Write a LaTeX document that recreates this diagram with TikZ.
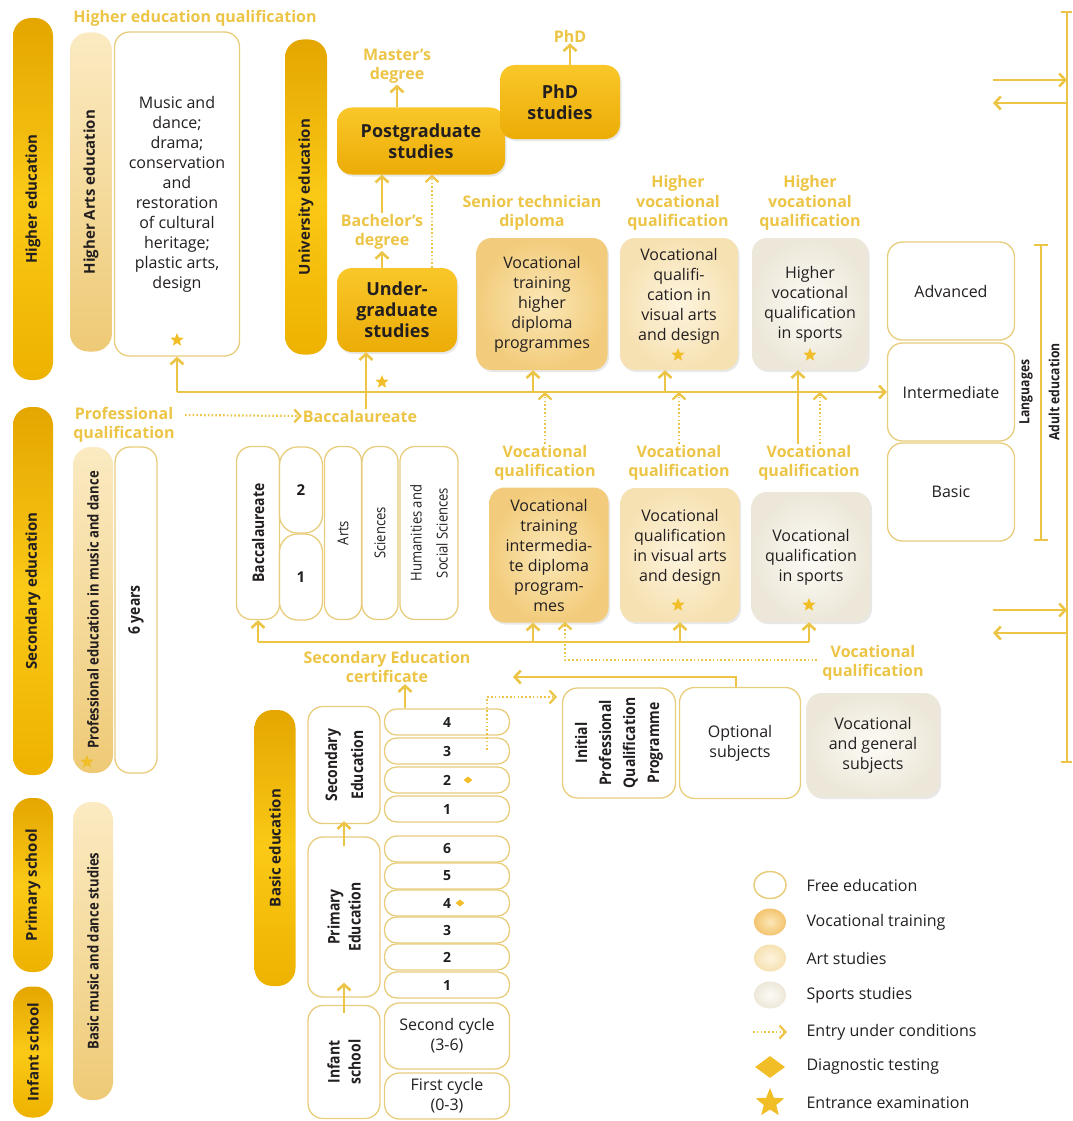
\documentclass[tikz,border=0pt]{standalone}
\usepackage{fontspec}
\setmainfont{Open Sans}
\newfontfamily\condfont[FakeStretch=0.87]{Open Sans}
\usetikzlibrary{arrows.meta,shapes.geometric,shadows}

\definecolor{gold}{RGB}{236,196,70}
\definecolor{goldedge}{RGB}{232,205,125}
\definecolor{starcol}{RGB}{241,190,40}
\definecolor{bardark}{RGB}{228,166,0}
\definecolor{barmid}{RGB}{250,201,22}
\definecolor{barright}{RGB}{238,178,0}
\definecolor{lightL}{RGB}{251,234,194}
\definecolor{lightR}{RGB}{238,202,118}
\definecolor{unitop}{RGB}{249,199,42}
\definecolor{unibot}{RGB}{236,172,6}
\definecolor{vocin}{RGB}{251,231,182}
\definecolor{vocout}{RGB}{242,204,124}
\definecolor{artin}{RGB}{253,244,222}
\definecolor{artout}{RGB}{246,225,178}
\definecolor{sportin}{RGB}{253,251,246}
\definecolor{sportout}{RGB}{236,231,216}
\definecolor{ink}{RGB}{35,31,32}

\begin{document}
\begin{tikzpicture}[x=1pt, y=-1pt, text=ink,
  font=\fontsize{16}{20}\selectfont,
  line/.style={gold, line width=2.6pt},
  arr/.style={line, -{Straight Barb[length=6pt,width=13pt]}},
  dotarr/.style={arr, line width=2.2pt, dash pattern=on 1.6pt off 2.2pt},
  darkbar/.style={rotate=90, rounded corners=18pt, inner sep=0pt,
    top color=bardark, bottom color=barright, middle color=barmid,
    font=\fontsize{15}{18}\selectfont\bfseries},
  lightbar/.style={rotate=90, rounded corners=18pt, inner sep=0pt,
    top color=lightL, bottom color=lightR,
    font=\condfont\fontsize{15}{18}\selectfont\bfseries},
  freebox/.style={draw=goldedge, line width=1.3pt, fill=white,
    rounded corners=15pt, align=center, inner sep=2pt},
  vfree/.style={freebox, rotate=90, font=\condfont\fontsize{15}{19}\selectfont},
  vfreeb/.style={vfree, font=\condfont\fontsize{16}{21}\selectfont\bfseries},
  softshadow/.style={drop shadow={opacity=0.18, shadow xshift=1.5pt, shadow yshift=-2pt}},
  unibox/.style={rounded corners=15pt, top color=unitop, bottom color=unibot,
    align=center, softshadow, font=\fontsize{18}{21}\selectfont\bfseries},
  vocbox/.style={rounded corners=15pt, inner color=vocin, outer color=vocout,
    align=center, softshadow},
  artbox/.style={rounded corners=15pt, inner color=artin, outer color=artout,
    align=center, softshadow},
  sportbox/.style={rounded corners=15pt, inner color=sportin, outer color=sportout,
    align=center, softshadow},
  qual/.style={text=gold, align=center, inner sep=1pt,
    font=\fontsize{16}{19.5}\selectfont\bfseries},
  grade/.style={freebox, rounded corners=12pt, minimum width=125pt,
    minimum height=26pt, font=\fontsize{14}{16}\selectfont\bfseries},
  sidelab/.style={rotate=90, font=\condfont\fontsize{14}{17}\selectfont\bfseries},
  examstar/.style={star, star points=5, star point ratio=2.3, fill=starcol,
    inner sep=0pt, minimum size=14pt},
  diag/.style={diamond, fill=starcol, inner sep=0pt, minimum width=9pt, minimum height=7pt},
  legblob/.style={ellipse, inner sep=0pt, minimum width=32pt, minimum height=27pt}]

  \useasboundingbox (0,0) rectangle (1072,1121);

  % stage bars on the left
  \node[darkbar, minimum width=362pt, minimum height=40pt] (hiedu) at (33,199) {Higher education};
  \node[darkbar, minimum width=368pt, minimum height=40pt] (secedu) at (33,591) {Secondary education};
  \node[darkbar, minimum width=174pt, minimum height=40pt] (primsch) at (33,885) {Primary school};
  \node[darkbar, minimum width=131pt, minimum height=40pt] (infsch) at (33,1052) {Infant school};

  % arts strand
  \node[lightbar, minimum width=319pt, minimum height=42pt,
    font=\fontsize{15}{18}\selectfont\bfseries] (hiarts) at (91,192) {Higher Arts education};
  \node[freebox, minimum width=125pt, minimum height=324pt] (music) at (177,194)
    {Music and\\dance;\\drama;\\conservation\\and\\restoration\\of cultural\\heritage;\\plastic arts,\\design};
  \node[lightbar, minimum width=326pt, minimum height=40pt] (profmd) at (93,610) {Professional education in music and dance};
  \node[vfreeb, minimum width=326pt, minimum height=42pt] (sixyrs) at (136,610) {6 years};
  \node[lightbar, minimum width=298pt, minimum height=40pt] (basicmd) at (93,951) {Basic music and dance studies};

  % university strand
  \node[darkbar, minimum width=315pt, minimum height=42pt] (univ) at (306,197) {University education};
  \node[unibox, minimum width=168pt, minimum height=67pt] (postgrad) at (421,141) {Postgraduate\\studies};
  \node[unibox, minimum width=120pt, minimum height=74pt] (phd) at (560,102) {PhD\\studies};
  \node[unibox, minimum width=120pt, minimum height=84pt] (undergrad) at (397,310) {Under-\\graduate\\studies};

  % qualifications (gold labels)
  \node[qual] (hiedq) at (195,18) {Higher education qualification};
  \node[qual] (masters) at (397,66) {Master's\\degree};
  \node[qual] (phdq) at (570,36) {PhD};
  \node[qual] (bachelor) at (382,232) {Bachelor's\\degree};
  \node[qual] (senior) at (532,213) {Senior technician\\diploma};
  \node[qual] (hvqart) at (678,203) {Higher\\vocational\\qualification};
  \node[qual] (hvqsport) at (810,203) {Higher\\vocational\\qualification};

  % higher vocational row
  \node[vocbox, minimum width=131pt, minimum height=132pt] (vochigh) at (542,304)
    {Vocational\\training\\higher\\diploma\\programmes};
  \node[artbox, minimum width=118pt, minimum height=132pt] (arthigh) at (679,304)
    {Vocational\\qualifi-\\cation in\\visual arts\\and design\\\mbox{}};
  \node[sportbox, minimum width=116pt, minimum height=132pt] (sporthigh) at (810,304)
    {Higher\\vocational\\qualification\\in sports};

  % languages
  \node[freebox, minimum width=127pt, minimum height=98pt] (adv) at (951,291) {Advanced};
  \node[freebox, minimum width=127pt, minimum height=98pt] (inter) at (951,392) {Intermediate};
  \node[freebox, minimum width=127pt, minimum height=98pt] (basic) at (951,492) {Basic};

  % baccalaureate block
  \node[qual] (profq) at (124,425) {Professional\\qualification};
  \node[qual] (baccq) at (360,416) {Baccalaureate};
  \node[vfreeb, minimum width=173pt, minimum height=43pt] (bacc) at (258,533) {Baccalaureate};
  \node[freebox, rounded corners=18pt, minimum width=43pt, minimum height=86pt,
    font=\fontsize{15}{18}\selectfont\bfseries] (bac2) at (301,490) {2};
  \node[freebox, rounded corners=18pt, minimum width=43pt, minimum height=86pt,
    font=\fontsize{15}{18}\selectfont\bfseries] (bac1) at (301,577) {1};
  \node[vfree, minimum width=173pt, minimum height=37pt] (arts) at (343,533) {Arts};
  \node[vfree, minimum width=173pt, minimum height=36pt] (sci) at (380,533) {Sciences};
  \node[vfree, minimum width=173pt, minimum height=58pt,
    font=\condfont\fontsize{15}{26}\selectfont] (hum) at (429,533) {Humanities and\\Social Sciences};

  % intermediate vocational row
  \node[qual] (vqvoc) at (545,463) {Vocational\\qualification};
  \node[qual] (vqart) at (679,463) {Vocational\\qualification};
  \node[qual] (vqsport) at (809,463) {Vocational\\qualification};
  \node[vocbox, minimum width=119pt, minimum height=135pt] (vocmid) at (549,555)
    {Vocational\\training\\intermedia-\\te diploma\\program-\\mes};
  \node[artbox, minimum width=119pt, minimum height=134pt] (artmid) at (680,555)
    {Vocational\\qualification\\in visual arts\\and design\\\mbox{}};
  \node[sportbox, minimum width=119pt, minimum height=130pt] (sportmid) at (811,557)
    {Vocational\\qualification\\in sports};

  % initial professional qualification
  \node[qual] (secert) at (387,667) {Secondary Education\\certificate};
  \node[qual] (vqgen) at (873,663) {Vocational\\qualification};
  \node[vfreeb, minimum width=110pt, minimum height=113pt,
    font=\condfont\fontsize{16}{24}\selectfont\bfseries] (ipqp) at (619,743)
    {Initial\\Professional\\Qualification\\Programme};
  \node[freebox, minimum width=121pt, minimum height=111pt] (optsub) at (740,743) {Optional\\subjects};
  \node[sportbox, minimum width=133pt, minimum height=104pt] (vocgen) at (873,745)
    {Vocational\\and general\\subjects};

  % basic education
  \node[darkbar, minimum width=276pt, minimum height=41pt] (basicedu) at (275,848) {Basic education};
  \node[vfreeb, minimum width=117pt, minimum height=72pt,
    font=\condfont\fontsize{16}{26}\selectfont\bfseries] (secbox) at (344,765) {Secondary\\Education};
  \node[vfreeb, minimum width=160pt, minimum height=72pt] (primbox) at (344,917) {Primary\\Education};
  \node[vfreeb, minimum width=113pt, minimum height=72pt] (infbox) at (344,1062) {Infant\\school};
  \foreach \g/\y in {4/722,3/751,2/780,1/809}
    \node[grade] (s\g) at (447,\y) {\g};
  \foreach \g/\y in {6/849,5/876,4/903,3/930,2/957,1/985}
    \node[grade] (p\g) at (447,\y) {\g};
  \node[freebox, minimum width=125pt, minimum height=66pt] (cyc2) at (447,1036) {Second cycle\\(3-6)};
  \node[freebox, minimum width=125pt, minimum height=46pt] (cyc1) at (447,1096) {First cycle\\(0-3)};
  \node[diag] (dgs2) at (468,780) {};
  \node[diag] (dgp4) at (460,903) {};

  % entrance examination stars
  \node[examstar] (stmusic) at (177,340) {};
  \node[examstar] (stprof) at (87,762) {};
  \node[examstar] (stug) at (382,382) {};
  \node[examstar] (starthi) at (678,355) {};
  \node[examstar] (stsphi) at (810,355) {};
  \node[examstar] (startmid) at (678,605) {};
  \node[examstar] (stspmid) at (809,605) {};

  % university progression
  \draw[arr] (postgrad.north -| masters) -- (masters.south);
  \draw[arr] (phd.north -| phdq) -- (phdq.south);
  \draw[arr] (undergrad.north -| bachelor) -- (bachelor.south);
  \draw[arr] (bachelor.north) -- (postgrad.south -| bachelor);
  \draw[dotarr] (undergrad.north -| 432,0) -- (postgrad.south -| 432,0);

  % access line to higher education
  \coordinate (mainL) at (177,392);
  \coordinate (jvoc) at (533,392);
  \coordinate (jart) at (665,392);
  \coordinate (jsport) at (798,392);
  \coordinate (dsport) at (820,392);
  \draw[arr] (mainL) -- (inter.west);
  \draw[arr] (mainL) -- (music.south);
  \draw[arr] (baccq.north -| 366,0) -- (undergrad.south -| 366,0);
  \draw[arr] (jvoc) -- (jvoc |- vochigh.south);
  \draw[arr] (jart) -- (jart |- arthigh.south);
  \draw[arr] (jsport |- vqsport.north) -- (jsport |- sporthigh.south);
  \draw[dotarr] (vqvoc.north) -- (vqvoc.north |- mainL);
  \draw[dotarr] (vqart.north) -- (vqart.north |- mainL);
  \draw[dotarr] (dsport |- vqsport.north) -- (dsport);

  % professional qualification gives baccalaureate under conditions
  \coordinate (pqend) at (185,415);
  \draw[dotarr] (pqend) -- (baccq.west);

  % access line to upper secondary
  \coordinate (lowL) at (258,642);
  \coordinate (lowR) at (809,642);
  \coordinate (jvm) at (533,642);
  \draw[line] (lowL) -- (lowR);
  \draw[arr] (lowL) -- (lowL |- bacc.west);
  \draw[arr] (jvm) -- (jvm |- vocmid.south);
  \draw[arr] (lowL -| artmid) -- (artmid.south);
  \draw[arr] (lowR) -- (lowR |- sportmid.south);
  \coordinate (vgdot) at (817,660);
  \coordinate (vmdot) at (565,622);
  \draw[dotarr] (vgdot) -| (vmdot);
  \coordinate (certend) at (513,677);
  \draw[arr] (optsub.north -| 736,0) |- (certend);
  \coordinate (gdot) at (487,750);
  \coordinate (ipend) at (557,697);
  \draw[dotarr] (gdot) |- (ipend);
  \draw[arr] (s4.north -| 405,0) -- (secert.south -| 405,0);

  % basic education progression
  \draw[arr] ([yshift=-10pt]primbox.east) -- ([yshift=3pt]secbox.west);
  \draw[arr] ([yshift=-8pt]infbox.east) -- ([yshift=15pt]primbox.west);

  % adult education rail on the right
  \coordinate (railT) at (1067,12);
  \coordinate (railB) at (1067,762);
  \draw[line] (railT) -- (railB);
  \draw[line] ([xshift=-6pt]railT) -- ([xshift=5pt]railT);
  \draw[line] ([xshift=-6pt]railB) -- ([xshift=5pt]railB);
  \coordinate (inA) at (993,80);
  \coordinate (outA) at (993,103);
  \coordinate (inB) at (993,610);
  \coordinate (outB) at (993,633);
  \draw[arr] (inA) -- (inA -| railT);
  \draw[arr] (outA -| railT) -- (outA);
  \draw[arr] (inB) -- (inB -| railT);
  \draw[arr] (outB -| railT) -- (outB);

  % languages bracket
  \coordinate (brT) at (1041,245);
  \coordinate (brB) at (1041,540);
  \draw[line, line width=2pt] (brT) -- (brB);
  \draw[line, line width=2pt] ([xshift=-7pt]brT) -- ([xshift=7pt]brT);
  \draw[line, line width=2pt] ([xshift=-7pt]brB) -- ([xshift=7pt]brB);
  \node[sidelab] (lang) at (1026,392) {Languages};
  \node[sidelab] (adult) at (1054,392) {Adult education};

  % legend
  \node[legblob, draw=goldedge, line width=1.5pt, fill=white] (lgfree) at (770,885) {};
  \node[legblob, inner color=vocin, outer color=vocout!90!orange] (lgvoc) at (770,922) {};
  \node[legblob, inner color=artin, outer color=artout] (lgart) at (770,958) {};
  \node[legblob, inner color=sportin, outer color=sportout] (lgsport) at (770,995) {};
  \coordinate (lgdA) at (753,1032);
  \coordinate (lgdB) at (787,1032);
  \draw[dotarr] (lgdA) -- (lgdB);
  \node[diamond, fill=starcol, inner sep=0pt, minimum width=30pt, minimum height=22pt] (lgdiag) at (770,1067) {};
  \node[examstar, minimum size=30pt] (lgstar) at (770,1103) {};
  \node[anchor=west] (lgfreet) at (803,885) {Free education};
  \node[anchor=west] (lgvoct) at (803,922) {Vocational training};
  \node[anchor=west] (lgartt) at (803,958) {Art studies};
  \node[anchor=west] (lgsportt) at (803,995) {Sports studies};
  \node[anchor=west] (lgentt) at (803,1032) {Entry under conditions};
  \node[anchor=west] (lgdiagt) at (803,1067) {Diagnostic testing};
  \node[anchor=west] (lgstart) at (803,1103) {Entrance examination};
\end{tikzpicture}
\end{document}
